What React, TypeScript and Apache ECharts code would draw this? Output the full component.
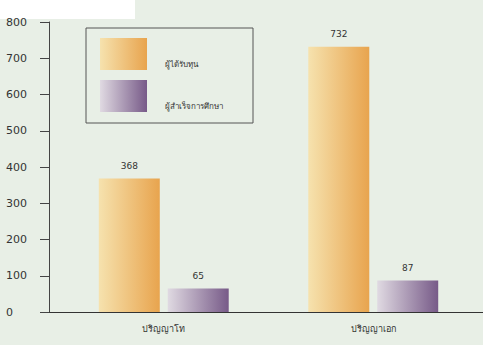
import React, { useEffect, useRef } from "react";
import * as echarts from "echarts";

const categories = ["ปริญญาโท", "ปริญญาเอก"];
const seriesNames = ["ผู้ได้รับทุน", "ผู้สำเร็จการศึกษา"];
const granted = [368, 732];
const graduated = [65, 87];
const yTicks = { min: 0, max: 800, interval: 100 };

const FONT = "'DejaVu Sans', 'Noto Sans', sans-serif";

export default function App() {
  const ref = useRef<HTMLDivElement>(null);
  useEffect(() => {
    document.body.style.margin = "0";
    const chart = echarts.init(ref.current!, null, { renderer: "svg" });
    const orange = new echarts.graphic.LinearGradient(0, 0, 1, 0, [
      { offset: 0, color: "#f6e2ae" },
      { offset: 1, color: "#e8a44e" },
    ]);
    const purple = new echarts.graphic.LinearGradient(0, 0, 1, 0, [
      { offset: 0, color: "#e0dae2" },
      { offset: 1, color: "#775a88" },
    ]);
    chart.setOption({
      animation: false,
      backgroundColor: "#e8efe6",
      textStyle: { fontFamily: FONT },
      graphic: [
        { type: "rect", left: 0, top: 0, shape: { width: 135, height: 19 }, style: { fill: "#ffffff" }, z: -1 },
        { type: "line", shape: { x1: 40, y1: 312.5, x2: 483, y2: 312.5 }, style: { stroke: "#333", lineWidth: 1 } },
      ],
      legend: {
        left: 86,
        top: 28,
        orient: "vertical",
        itemWidth: 47,
        itemHeight: 32,
        itemGap: 2,
        padding: [6, 30, 7, 14],
        borderColor: "#555",
        borderWidth: 1,
        icon: "rect",
        formatter: (n: string) => "\n" + n,
        textStyle: { fontSize: 8, color: "#333", lineHeight: 20, padding: [0, 0, 0, 13] },
        data: seriesNames,
      },
      grid: { left: 59, right: 5, top: 22, bottom: 33, containLabel: false },
      xAxis: {
        type: "category",
        data: categories,
        axisLine: { show: false },
        axisTick: { show: false },
        axisLabel: { color: "#333", fontSize: 9, margin: 12 },
      },
      yAxis: {
        type: "value",
        min: yTicks.min,
        max: yTicks.max,
        interval: yTicks.interval,
        offset: 10,
        splitLine: { show: false },
        axisLine: { show: true, lineStyle: { color: "#444", width: 1 } },
        axisTick: { show: true, length: 9, lineStyle: { color: "#444" } },
        axisLabel: { color: "#333", fontSize: 11, align: "left", margin: 43 },
      },
      series: [
        {
          name: seriesNames[0],
          type: "bar",
          data: granted,
          barWidth: 61,
          barGap: "13%",
          itemStyle: { color: orange },
          label: { show: true, position: "top", distance: 8, fontSize: 9, color: "#333" },
        },
        {
          name: seriesNames[1],
          type: "bar",
          data: graduated,
          barWidth: 61,
          barGap: "13%",
          itemStyle: { color: purple },
          label: { show: true, position: "top", distance: 8, fontSize: 9, color: "#333" },
        },
      ],
    });
    return () => chart.dispose();
  }, []);
  return <div ref={ref} style={{ width: 483, height: 345 }} />;
}
